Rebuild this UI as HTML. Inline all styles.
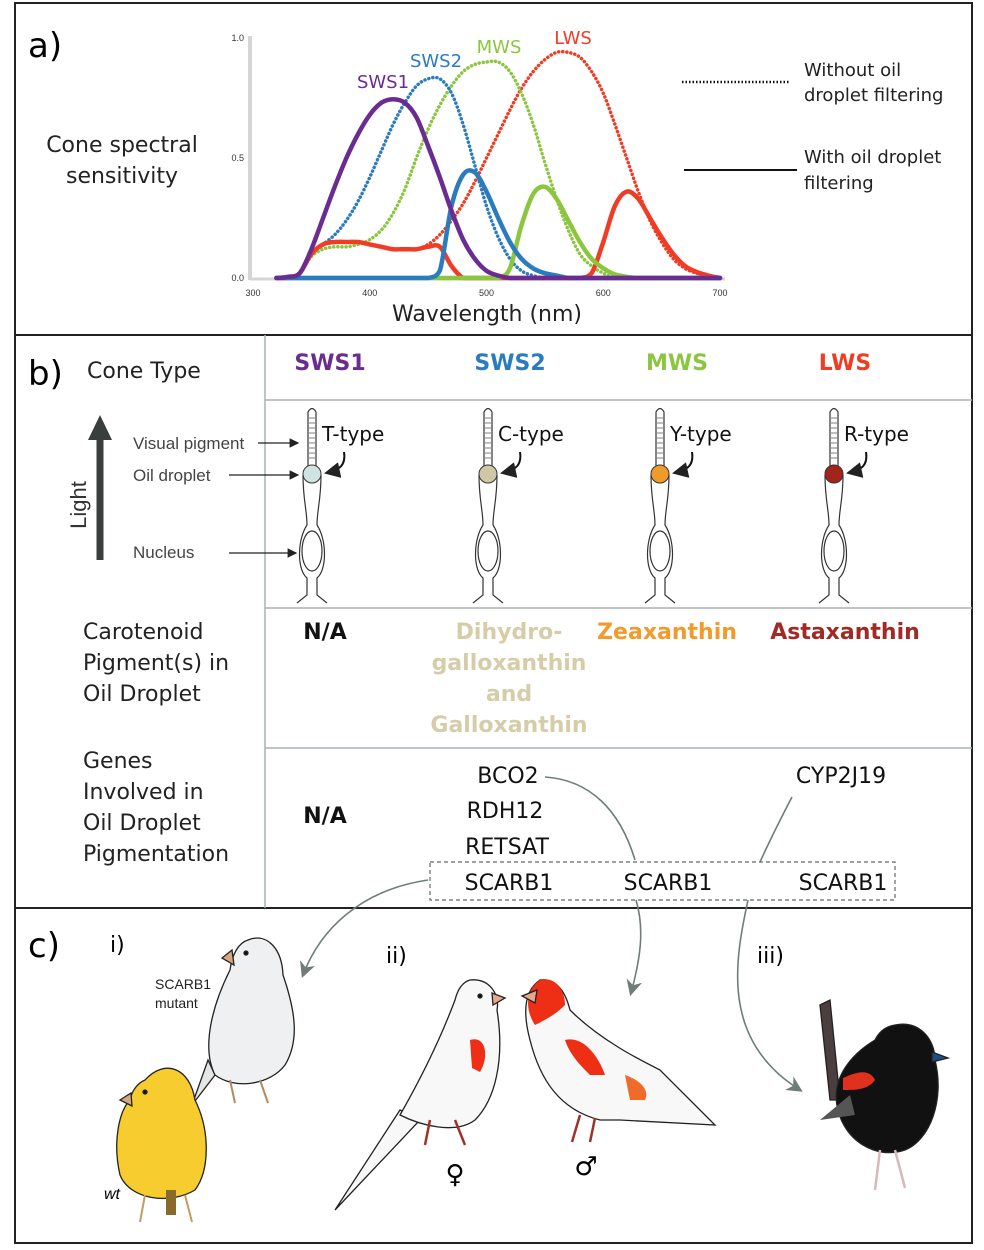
<!DOCTYPE html>
<html><head><meta charset="utf-8"><style>
html,body{margin:0;padding:0;background:#fff;}
svg{display:block;font-family:"Liberation Sans",sans-serif;}
.t{font-family:"DejaVu Sans","Liberation Sans",sans-serif;}
</style></head><body>
<svg id="fig" width="984" height="1250" viewBox="0 0 984 1250">
<defs><marker id="ah" markerWidth="8" markerHeight="8" refX="7" refY="4" orient="auto"><path d="M0,0 L8,4 L0,8 z" fill="#222"/></marker>
<marker id="ahg" markerWidth="10" markerHeight="10" refX="8" refY="5" orient="auto"><path d="M0,0 L10,5 L0,10 L3,5 z" fill="#6f7d7a"/></marker>
<g id="cone">
<path d="M-4,466 L-4,412 Q0,405 4,412 L4,466" fill="#fff" stroke="#333" stroke-width="1.2"/>
<path d="M-3,418 H3 M-3,423 H3 M-3,428 H3 M-3,433 H3 M-3,438 H3 M-3,443 H3 M-3,448 H3 M-3,453 H3 M-3,458 H3" stroke="#555" stroke-width="0.8"/>
<path d="M-9,475 C-9,500 -5,510 -5,525 C-15,540 -15,570 -5,578 L-5,595 L-15,603 M9,475 C9,500 5,510 5,525 C15,540 15,570 5,578 L5,595 L15,603" fill="none" stroke="#333" stroke-width="1.2"/>
<ellipse cx="0" cy="551" rx="10" ry="20" fill="#fff" stroke="#333" stroke-width="1.2"/>
<path d="M32,452 C34,465 28,470 14,473" fill="none" stroke="#111" stroke-width="2" marker-end="url(#ah)"/>
</g></defs>
<rect x="15" y="3" width="957" height="1240" fill="none" stroke="#222" stroke-width="2"/>
<line x1="15" y1="335" x2="972" y2="335" stroke="#222" stroke-width="2"/>
<line x1="15" y1="908" x2="972" y2="908" stroke="#222" stroke-width="2"/>
<text x="28" y="57" font-size="34" class="t">a)</text>
<text x="122" y="152" font-size="22" text-anchor="middle" class="t" fill="#222"><tspan x="122">Cone spectral</tspan><tspan x="122" dy="31">sensitivity</tspan></text>
<g id="chart"></g>
<text x="487" y="321" font-size="22" text-anchor="middle" class="t" fill="#222">Wavelength (nm)</text>
<text x="383" y="88" font-size="18" text-anchor="middle" class="t" fill="#6a2c91">SWS1</text>
<text x="436" y="67" font-size="18" text-anchor="middle" class="t" fill="#2b7bbf">SWS2</text>
<text x="499" y="53" font-size="18" text-anchor="middle" class="t" fill="#8cc63f">MWS</text>
<text x="573" y="44" font-size="18" text-anchor="middle" class="t" fill="#f03c24">LWS</text>
<line x1="682" y1="82" x2="790" y2="82" stroke="#111" stroke-width="2.5" stroke-dasharray="1.5 2"/>
<text x="804" y="76" font-size="18" class="t" fill="#222"><tspan x="804">Without oil</tspan><tspan x="804" dy="25">droplet filtering</tspan></text>
<line x1="684" y1="170" x2="797" y2="170" stroke="#111" stroke-width="2"/>
<text x="804" y="163" font-size="18" class="t" fill="#222"><tspan x="804">With oil droplet</tspan><tspan x="804" dy="26">filtering</tspan></text>
<line x1="265" y1="335" x2="265" y2="908" stroke="#a9b3b1" stroke-width="1.5"/>
<line x1="265" y1="400" x2="972" y2="400" stroke="#a9b3b1" stroke-width="1.5"/>
<line x1="265" y1="608" x2="972" y2="608" stroke="#a9b3b1" stroke-width="1.5"/>
<line x1="265" y1="748" x2="972" y2="748" stroke="#a9b3b1" stroke-width="1.5"/>
<text x="28" y="385" font-size="34" class="t">b)</text>
<text x="87" y="378" font-size="22" class="t" fill="#222">Cone Type</text>
<g font-size="22" font-weight="bold" text-anchor="middle" class="t">
<text x="330" y="370" fill="#6a2c91">SWS1</text>
<text x="510" y="370" fill="#2b7bbf">SWS2</text>
<text x="677" y="370" fill="#8cc63f">MWS</text>
<text x="845" y="370" fill="#f03c24">LWS</text>
</g>
<g><use href="#cone" x="312"/><circle cx="312" cy="474" r="9" fill="#cfe3e2" stroke="#333"/><text x="322" y="441" font-size="20" class="t" fill="#111">T-type</text></g>
<g><use href="#cone" x="488"/><circle cx="488" cy="474" r="9" fill="#cfc7a6" stroke="#333"/><text x="498" y="441" font-size="20" class="t" fill="#111">C-type</text></g>
<g><use href="#cone" x="660"/><circle cx="660" cy="474" r="9" fill="#f09a2a" stroke="#333"/><text x="670" y="441" font-size="20" class="t" fill="#111">Y-type</text></g>
<g><use href="#cone" x="834"/><circle cx="834" cy="474" r="9" fill="#a3241c" stroke="#333"/><text x="844" y="441" font-size="20" class="t" fill="#111">R-type</text></g>
<g font-size="17" fill="#444">
<text x="133" y="449">Visual pigment</text>
<text x="133" y="481">Oil droplet</text>
<text x="133" y="558">Nucleus</text>
</g>
<line x1="258" y1="443" x2="298" y2="443" stroke="#222" stroke-width="1.2" marker-end="url(#ah)"/>
<line x1="229" y1="475" x2="298" y2="475" stroke="#222" stroke-width="1.2" marker-end="url(#ah)"/>
<line x1="229" y1="553" x2="296" y2="553" stroke="#222" stroke-width="1.2" marker-end="url(#ah)"/>
<line x1="100" y1="560" x2="100" y2="435" stroke="#3a3f3e" stroke-width="7"/>
<path d="M88,440 L100,415 L112,440 z" fill="#3a3f3e"/>
<text transform="translate(86,505) rotate(-90)" font-size="22" text-anchor="middle" fill="#333">Light</text>
<g font-size="22" class="t" fill="#222">
<text x="83" y="639"><tspan x="83">Carotenoid</tspan><tspan x="83" dy="31">Pigment(s) in</tspan><tspan x="83" dy="31">Oil Droplet</tspan></text>
<text x="83" y="768"><tspan x="83">Genes</tspan><tspan x="83" dy="31">Involved in</tspan><tspan x="83" dy="31">Oil Droplet</tspan><tspan x="83" dy="31">Pigmentation</tspan></text>
</g>
<g font-size="22" font-weight="bold" class="t" text-anchor="middle">
<text x="325" y="639" fill="#111">N/A</text>
<text x="509" y="639" fill="#d6cda8"><tspan x="509">Dihydro-</tspan><tspan x="509" dy="31">galloxanthin</tspan><tspan x="509" dy="31">and</tspan><tspan x="509" dy="31">Galloxanthin</tspan></text>
<text x="667" y="639" fill="#f39a2b">Zeaxanthin</text>
<text x="845" y="639" fill="#a32a24">Astaxanthin</text>
<text x="325" y="823" fill="#111">N/A</text>
<g fill="#111" font-weight="normal" font-size="22">
<text x="508" y="783">BCO2</text>
<text x="505" y="818">RDH12</text>
<text x="507" y="854">RETSAT</text>
<text x="841" y="783">CYP2J19</text>
<text x="509" y="890">SCARB1</text>
<text x="668" y="890">SCARB1</text>
<text x="843" y="890">SCARB1</text>
</g></g>
<rect x="430" y="862" width="465" height="38" fill="none" stroke="#666" stroke-width="1.2" stroke-dasharray="4 3"/>
<g fill="none" stroke="#6f7d7a" stroke-width="1.6">
<path d="M545,777 C590,780 620,810 635,860"/>
<path d="M792,797 C780,820 770,840 760,862"/>
<path d="M428,880 C360,890 320,930 303,975" marker-end="url(#ahg)"/>
<path d="M636,900 C645,930 640,960 631,993" marker-end="url(#ahg)"/>
<path d="M748,900 C735,960 720,1040 800,1090" marker-end="url(#ahg)"/>
</g>
<text x="28" y="957" font-size="34" class="t">c)</text>
<text x="110" y="952" font-size="22" class="t">i)</text>
<text x="386" y="963" font-size="22" class="t">ii)</text>
<text x="757" y="963" font-size="22" class="t">iii)</text>
<text x="155" y="989" font-size="14" fill="#222"><tspan x="155">SCARB1</tspan><tspan x="155" dy="19">mutant</tspan></text>
<text x="104" y="1199" font-size="16" font-style="italic">wt</text>
<text x="455" y="1183" font-size="26" text-anchor="middle" class="t">♀</text>
<text x="586" y="1175" font-size="26" text-anchor="middle" class="t">♂</text>
<g stroke="#222" stroke-width="1.3">
<g>
<path d="M208,1060 L192,1105 L215,1075 z" fill="#e4e6e7"/>
<path d="M248,940 C268,932 282,950 283,975 C295,1010 300,1040 285,1065 C270,1085 235,1090 215,1075 C200,1045 215,1000 230,970 C232,955 238,943 248,940 z" fill="#eef0f2"/>
<path d="M232,950 L222,958 L234,965 z" fill="#d9a77f"/>
<circle cx="246" cy="953" r="2" fill="#111"/>
<path d="M230,1080 L235,1103 M260,1080 L268,1103" stroke="#b08a60" stroke-width="2"/>
</g>
<g>
<path d="M145,1080 C165,1058 190,1068 195,1100 C210,1130 210,1170 195,1190 C170,1205 130,1200 120,1175 C112,1140 120,1110 130,1100 C132,1090 138,1083 145,1080 z" fill="#f6cc2e"/>
<path d="M131,1093 L120,1100 L132,1106 z" fill="#d9a77f"/>
<circle cx="145" cy="1092" r="2" fill="#111"/>
<rect x="166" y="1190" width="10" height="25" fill="#8a6a2a" stroke="none"/>
<path d="M145,1195 L140,1222 M185,1195 L192,1222" stroke="#c49a60" stroke-width="2"/>
</g>
<g>
<path d="M335,1210 L400,1110 L420,1120 z" fill="#f8f8f8"/>
<path d="M470,980 C490,978 500,995 497,1010 C505,1060 495,1100 475,1120 C455,1135 420,1125 400,1115 C420,1080 440,1040 455,1000 C458,988 463,982 470,980 z" fill="#f8f8f8"/>
<path d="M470,1040 C485,1035 490,1055 480,1072 L472,1068 z" fill="#ee2f16" stroke="none"/>
<path d="M492,993 L505,998 L493,1005 z" fill="#e8a88a"/>
<circle cx="480" cy="996" r="2" fill="#111"/>
<path d="M430,1120 L425,1145 M455,1120 L465,1145" stroke="#a0302a" stroke-width="2.5"/>
</g>
<g>
<path d="M540,980 C525,990 522,1010 530,1040 C540,1080 560,1110 600,1120 L620,1120 L715,1125 L660,1070 C640,1060 600,1040 570,1010 C565,990 555,978 540,980 z" fill="#f8f8f8"/>
<path d="M540,980 C555,976 565,990 565,1005 C555,1015 545,1020 535,1025 C525,1010 525,990 540,980 z" fill="#ee2f16" stroke="none"/>
<path d="M537,990 L522,996 L535,1003 z" fill="#e8a88a"/>
<path d="M565,1040 C585,1035 600,1060 605,1075 L590,1075 C580,1065 570,1055 565,1040 z" fill="#ee2f16" stroke="none"/>
<path d="M625,1075 C640,1080 650,1090 645,1100 L630,1100 z" fill="#f06a2a" stroke="none"/>
<path d="M580,1115 L572,1142 M595,1118 L590,1142" stroke="#a0302a" stroke-width="2.5"/>
</g>
<g>
<path d="M820,1005 L830,1000 L840,1100 L830,1100 z" fill="#4a3e3e"/>
<path d="M895,1025 C920,1020 935,1040 935,1060 C945,1100 930,1140 905,1150 C875,1160 845,1140 838,1110 C830,1080 850,1055 875,1040 C880,1030 888,1026 895,1025 z" fill="#111"/>
<path d="M843,1078 C860,1070 870,1070 875,1080 C868,1090 855,1090 843,1090 z" fill="#e0311d" stroke="none"/>
<path d="M820,1120 L850,1095 L855,1115 z" fill="#555" stroke="none"/>
<path d="M932,1052 L948,1058 L932,1062 z" fill="#1f4e8a"/>
<path d="M880,1150 L875,1190 M895,1150 L905,1188" stroke="#d8b8b8" stroke-width="2.5"/>
</g>
</g>
</svg>
<script>
const wl = [320,330,340,350,360,370,380,390,400,410,420,430,440,450,460,470,480,490,500,510,520,530,540,550,560,570,580,590,600,610,620,630,640,650,660,670,680,690,700];
const sws1Solid = [0,0.005,0.02,0.12,0.25,0.38,0.5,0.6,0.68,0.73,0.745,0.73,0.67,0.55,0.42,0.28,0.16,0.08,0.03,0.01,0,0,0,0,0,0,0,0,0,0,0,0,0,0,0,0,0,0,0];
const sws2Dotted = [0,0,0.02,0.1,0.14,0.18,0.24,0.32,0.42,0.53,0.64,0.73,0.8,0.83,0.83,0.77,0.64,0.47,0.3,0.17,0.08,0.03,0.01,0,0,0,0,0,0,0,0,0,0,0,0,0,0,0,0];
const sws2Solid = [0,0,0,0,0,0,0,0,0,0,0,0,0,0,0.03,0.3,0.43,0.44,0.36,0.25,0.15,0.08,0.04,0.02,0.01,0,0,0,0,0,0,0,0,0,0,0,0,0,0];
const mwsDotted = [0,0,0.02,0.09,0.12,0.13,0.13,0.14,0.16,0.2,0.27,0.37,0.5,0.62,0.72,0.8,0.86,0.89,0.9,0.9,0.86,0.77,0.64,0.48,0.33,0.2,0.1,0.05,0.02,0,0,0,0,0,0,0,0,0,0];
const mwsSolid = [0,0,0,0,0,0,0,0,0,0,0,0,0,0,0,0,0,0,0,0,0.04,0.22,0.35,0.38,0.33,0.24,0.15,0.08,0.04,0.015,0.005,0,0,0,0,0,0,0,0];
const lwsDotted = [0,0,0.02,0.1,0.14,0.15,0.15,0.15,0.14,0.13,0.12,0.12,0.12,0.14,0.18,0.24,0.31,0.4,0.5,0.6,0.7,0.79,0.86,0.91,0.94,0.94,0.92,0.86,0.77,0.64,0.5,0.36,0.24,0.15,0.08,0.04,0.02,0.01,0];
const lwsSolid = [0,0,0.02,0.1,0.14,0.15,0.15,0.15,0.14,0.13,0.12,0.12,0.12,0.13,0.13,0.05,0,0,0,0,0,0,0,0,0,0,0,0.02,0.15,0.3,0.36,0.33,0.25,0.17,0.1,0.05,0.025,0.01,0];
const xTicks = [300,400,500,600,700];
const yTicks = [0,0.5,1.0];
const yTickLabels = ["0.0","0.5","1.0"];
const NS="http://www.w3.org/2000/svg";
const g=document.getElementById('chart');
function xs(v){return 253+(v-300)*(720-253)/400;}
function ys(v){return 278-v*(278-38);}
function mk(t,a){const e=document.createElementNS(NS,t);for(const k in a)e.setAttribute(k,a[k]);g.appendChild(e);return e;}
let ax=mk('line',{x1:250,y1:36,x2:250,y2:280,stroke:'#d4d6d6','stroke-width':4});


let bx=mk('line',{x1:250,y1:279,x2:725,y2:279,stroke:'#d4d6d6','stroke-width':3});


xTicks.forEach(v=>{const t=mk('text',{x:xs(v),y:296,'font-size':9,'text-anchor':'middle',fill:'#333'});t.textContent=v;

});
yTicks.forEach((v,i)=>{const t=mk('text',{x:244,y:ys(v)+3,'font-size':9,'text-anchor':'end',fill:'#333'});t.textContent=yTickLabels[i];

});
function pathOf(arr){
  const P=arr.map((v,i)=>[xs(wl[i]),ys(v)]);
  let d='M'+P[0][0].toFixed(1)+','+P[0][1].toFixed(1);
  for(let i=0;i<P.length-1;i++){
    const p0=P[Math.max(0,i-1)],p1=P[i],p2=P[i+1],p3=P[Math.min(P.length-1,i+2)];
    const c1=[p1[0]+(p2[0]-p0[0])/6,Math.min(278,p1[1]+(p2[1]-p0[1])/6)];
    const c2=[p2[0]-(p3[0]-p1[0])/6,Math.min(278,p2[1]-(p3[1]-p1[1])/6)];
    d+='C'+c1[0].toFixed(1)+','+c1[1].toFixed(1)+' '+c2[0].toFixed(1)+','+c2[1].toFixed(1)+' '+p2[0].toFixed(1)+','+p2[1].toFixed(1);
  }
  return d;}
function draw(arr,color,dotted,name){const p=mk('path',{d:pathOf(arr),fill:'none',stroke:color,'stroke-width':4.5,'stroke-linejoin':'round','stroke-linecap':'round'});
if(dotted){p.setAttribute('stroke-dasharray','0.1 4');p.setAttribute('stroke-width','3.5');}

}
draw(lwsDotted,'#f03c24',true,'lws-dotted');
draw(mwsDotted,'#8cc63f',true,'mws-dotted');
draw(sws2Dotted,'#2b7bbf',true,'sws2-dotted');
draw(lwsSolid,'#f03c24',false,'lws-solid');
draw(mwsSolid,'#8cc63f',false,'mws-solid');
draw(sws2Solid,'#2b7bbf',false,'sws2-solid');
draw(sws1Solid,'#6a2c91',false,'sws1-solid');
</script>
</body></html>
